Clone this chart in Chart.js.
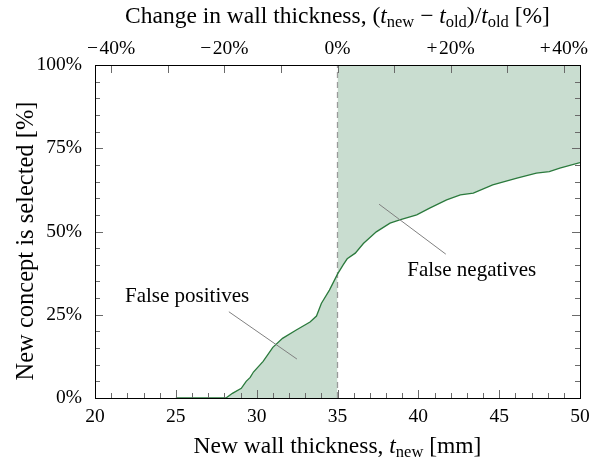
<!DOCTYPE html>
<html>
<head>
<meta charset="utf-8">
<script src="https://cdn.jsdelivr.net/npm/chart.js@4/dist/chart.umd.min.js"></script>
<style>
  html, body { margin: 0; padding: 0; background: #fff; }
  #wrap { width: 594px; height: 464px; }
</style>
</head>
<body>
<div id="wrap"><canvas id="chart" width="594" height="464"></canvas></div>
<script>
// values
var thickness = [25, 28.1, 28.5, 29.05, 29.35, 29.6, 29.8, 30.4, 31.0, 31.6, 32.45, 33.3, 33.7, 34.0, 34.5, 35.0,
                 35.35, 35.6, 36.1, 36.6, 37.4, 38.25, 38.85, 39.9, 40.7, 41.75, 42.6, 43.4, 44.6, 46.1, 47.3, 48.1, 48.75, 50];
var selected  = [0, 0, 1.4, 2.9, 5.0, 6.2, 7.8, 11.0, 15.2, 17.9, 20.4, 22.8, 24.6, 28.4, 32.4, 37.2,
                 40, 41.8, 43.5, 46.4, 49.9, 52.5, 53.5, 55, 57, 59.5, 61, 61.5, 64, 66, 67.5, 68, 69, 70.7];
var oldThickness = 35;          // reference wall thickness, t_old
var xTicks = [20, 25, 30, 35, 40, 45, 50];
var yTicks = [0, 25, 50, 75, 100];
var changeTicks = [-40, -30, -20, -10, 0, 10, 20, 30, 40];
var changeLabels = ['\u2212\u200a40%', '', '\u2212\u200a20%', '', '0%', '', '+\u200a20%', '', '+\u200a40%'];
var notes = [
    { text: 'False positives', x: 25.7, y: 30.6, from: [28.28, 25.9], to: [32.49, 11.7] },
    { text: 'False negatives', x: 43.3, y: 38.2, from: [37.57, 58.2], to: [41.7, 43.2] }
];

var serif = '"Liberation Serif", "DejaVu Serif", serif';
var fillColor = '#c9ddd0';
var lineColor = '#2b7a3d';

var curve = thickness.map(function(t, i) { return { x: t, y: selected[i] }; });
var below = curve.filter(function(p) { return p.x <= oldThickness; });
var above = curve.filter(function(p) { return p.x >= oldThickness; });

// rich text helper (for subscripts)
function drawRich(ctx, parts, cx, y) {
    var total = 0;
    parts.forEach(function(p) { ctx.font = p.font; p.w = ctx.measureText(p.t).width; total += p.w; });
    var x = cx - total / 2;
    ctx.textAlign = 'left';
    ctx.textBaseline = 'alphabetic';
    parts.forEach(function(p) {
        ctx.font = p.font;
        ctx.fillText(p.t, x, y + (p.dy || 0));
        x += p.w;
    });
}

function noSidePadding(s, h) {
    s.height = h;
    s.paddingLeft = 0;
    s.paddingRight = 0;
}

var decor = {
    id: 'decor',
    afterDatasetsDraw: function(chart) {
        var ctx = chart.ctx;
        var a = chart.chartArea;
        var xs = chart.scales.x, ys = chart.scales.y, x2 = chart.scales.x2;
        ctx.save();
        ctx.lineWidth = 1;
        ctx.strokeStyle = '#6a6a6a';
        ctx.beginPath();
        // bottom ticks, every 1 mm
        for (var t = 20; t <= 50; t++) {
            var px = Math.round(xs.getPixelForValue(t)) + 0.5;
            var len = (t % 5 === 0) ? 8 : 5;
            ctx.moveTo(px, a.bottom); ctx.lineTo(px, a.bottom - len);
        }
        // top ticks
        changeTicks.forEach(function(v) {
            var px = Math.round(x2.getPixelForValue(v)) + 0.5;
            ctx.moveTo(px, a.top); ctx.lineTo(px, a.top + 8);
        });
        // left / right ticks every 5%
        for (var v = 0; v <= 100; v += 5) {
            var py = Math.round(ys.getPixelForValue(v)) + 0.5;
            var l2 = (v % 25 === 0) ? 8 : 5;
            ctx.moveTo(a.left, py); ctx.lineTo(a.left + l2, py);
            ctx.moveTo(a.right, py); ctx.lineTo(a.right - l2, py);
        }
        ctx.stroke();

        // frame
        ctx.strokeStyle = '#000';
        ctx.strokeRect(Math.round(a.left) + 0.5, Math.round(a.top) + 0.5,
                       Math.round(a.right - a.left), Math.round(a.bottom - a.top));

        // annotations
        ctx.strokeStyle = '#808080';
        ctx.beginPath();
        notes.forEach(function(n) {
            ctx.moveTo(xs.getPixelForValue(n.from[0]), ys.getPixelForValue(n.from[1]));
            ctx.lineTo(xs.getPixelForValue(n.to[0]), ys.getPixelForValue(n.to[1]));
        });
        ctx.stroke();
        ctx.fillStyle = '#000';
        ctx.font = '21px ' + serif;
        ctx.textAlign = 'center';
        ctx.textBaseline = 'middle';
        notes.forEach(function(n) {
            ctx.fillText(n.text, xs.getPixelForValue(n.x), ys.getPixelForValue(n.y));
        });

        // axis titles with subscripts
        var cx = (a.left + a.right) / 2;
        var big = '23.5px ' + serif, ital = 'italic 23.5px ' + serif, sub = '16.5px ' + serif;
        drawRich(ctx, [
            { t: 'New wall thickness, ', font: big },
            { t: 't', font: ital },
            { t: 'new', font: sub, dy: 4 },
            { t: ' [mm]', font: big }
        ], cx, 453);
        drawRich(ctx, [
            { t: 'Change in wall thickness, (', font: big },
            { t: 't', font: ital },
            { t: 'new', font: sub, dy: 4 },
            { t: ' \u2212 ', font: big },
            { t: 't', font: ital },
            { t: 'old', font: sub, dy: 4 },
            { t: ')/', font: big },
            { t: 't', font: ital },
            { t: 'old', font: sub, dy: 4 },
            { t: ' [%]', font: big }
        ], cx, 23);

        // y title, rotated
        ctx.save();
        ctx.translate(33, 241);
        ctx.rotate(-Math.PI / 2);
        ctx.font = '24.5px ' + serif;
        ctx.textAlign = 'center';
        ctx.textBaseline = 'alphabetic';
        ctx.fillText('New concept is selected [%]', 0, 0);
        ctx.restore();
        ctx.restore();
    }
};

var tickFont = { family: serif, size: 19.5 };

new Chart(document.getElementById('chart'), {
    type: 'line',
    data: {
        datasets: [
            { data: curve, borderColor: lineColor, borderWidth: 1.3, pointRadius: 0, fill: false, order: 0 },
            { data: [{ x: oldThickness, y: 0 }, { x: oldThickness, y: 100 }], borderColor: '#9a9a9a',
              borderWidth: 1.3, borderDash: [6, 4], pointRadius: 0, fill: false, order: 1 },
            { data: below, borderWidth: 0, borderColor: 'rgba(0,0,0,0)', backgroundColor: fillColor,
              pointRadius: 0, fill: 'origin', order: 2 },
            { data: above, borderWidth: 0, borderColor: 'rgba(0,0,0,0)', backgroundColor: fillColor,
              pointRadius: 0, fill: 'end', order: 3 }
        ]
    },
    options: {
        responsive: false,
        animation: false,
        layout: { padding: { left: 0, right: 14, top: 0, bottom: 0 } },
        plugins: { legend: { display: false }, tooltip: { enabled: false } },
        scales: {
            x: {
                type: 'linear', position: 'bottom', min: 20, max: 50,
                grid: { display: false, drawTicks: false },
                border: { display: false },
                afterBuildTicks: function(s) { s.ticks = xTicks.map(function(v) { return { value: v }; }); },
                ticks: { color: '#000', font: tickFont, padding: 7, autoSkip: false, maxRotation: 0 },
                afterFit: function(s) { noSidePadding(s, 66); }
            },
            x2: {
                type: 'linear', position: 'top',
                min: (20 / oldThickness - 1) * 100, max: (50 / oldThickness - 1) * 100,
                grid: { display: false, drawTicks: false },
                border: { display: false },
                afterBuildTicks: function(s) { s.ticks = changeTicks.map(function(v) { return { value: v }; }); },
                ticks: {
                    color: '#000', font: tickFont, padding: 4, autoSkip: false, maxRotation: 0,
                    callback: function(v, i) { return changeLabels[i]; }
                },
                afterFit: function(s) { noSidePadding(s, 65); }
            },
            y: {
                min: 0, max: 100,
                grid: { display: false, drawTicks: false },
                border: { display: false },
                afterBuildTicks: function(s) { s.ticks = yTicks.map(function(v) { return { value: v }; }); },
                ticks: {
                    color: '#000', font: tickFont, padding: 13, autoSkip: false,
                    callback: function(v) { return v + '%'; }
                },
                afterFit: function(s) { s.width = 95; }
            }
        }
    },
    plugins: [decor]
});
</script>
</body>
</html>
